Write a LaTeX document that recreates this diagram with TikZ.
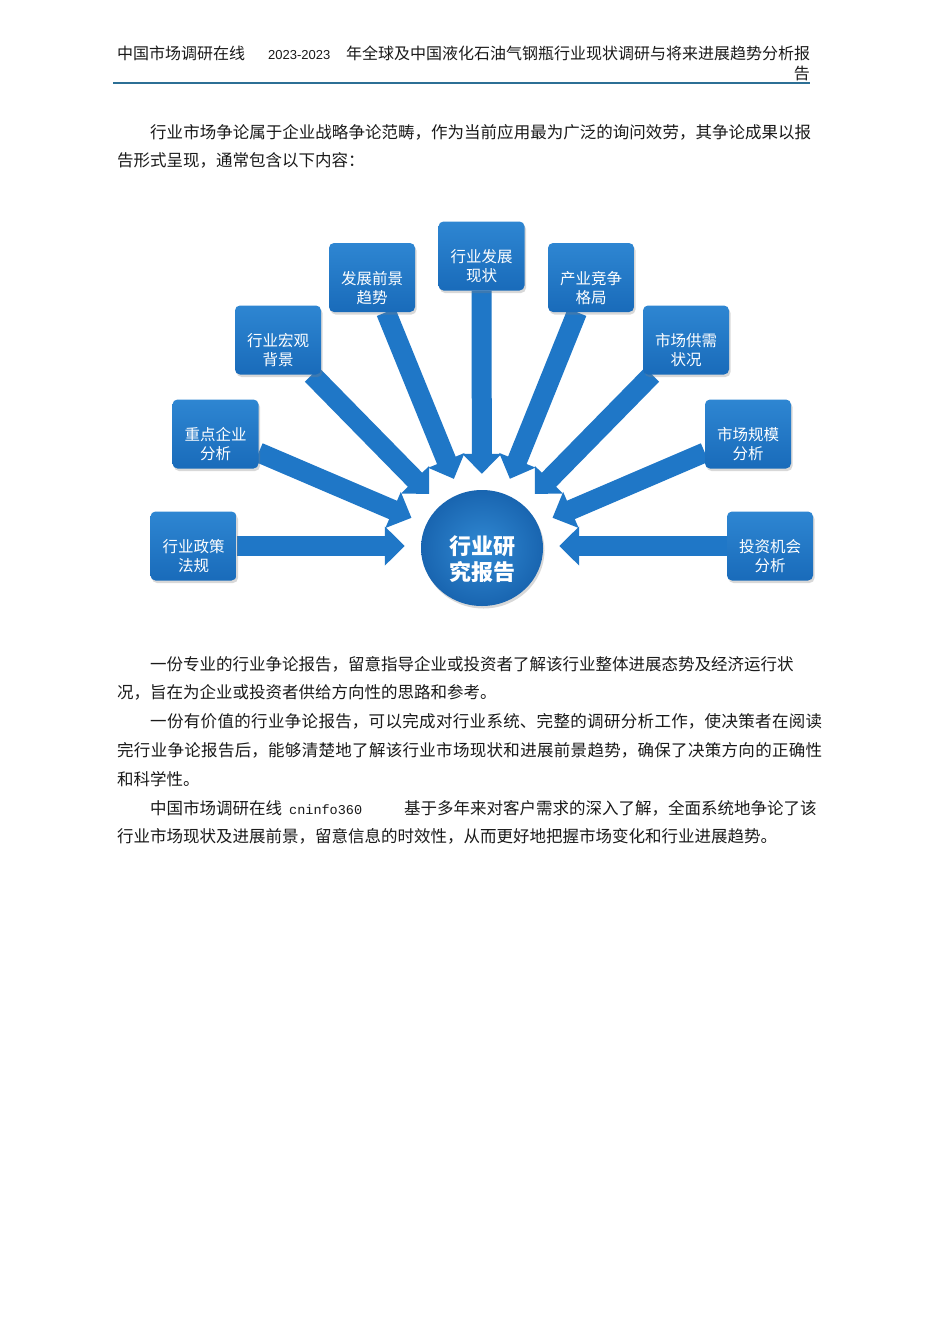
\documentclass[tikz,border=0pt]{standalone}
\usepackage{fontspec}
\setmainfont{Noto Sans CJK SC}
\newfontfamily\latinsans{Liberation Sans}
\newfontfamily\latinmono{Liberation Mono}
\usetikzlibrary{arrows.meta, positioning, shapes.geometric, shadows, backgrounds}
\XeTeXlinebreaklocale "zh"
\XeTeXlinebreakskip=0pt plus 3pt
\definecolor{cardtop}{HTML}{2E86D2}
\definecolor{cardbot}{HTML}{196BBA}
\definecolor{hubin}{HTML}{3189D3}
\definecolor{hubout}{HTML}{1965B0}
\definecolor{arrowblue}{HTML}{1F77C7}
\definecolor{rulecol}{HTML}{2C6F95}
\definecolor{inktext}{HTML}{1A1A1A}
% two lines of box text, pushed a little below the middle
\newcommand\twoline[2]{\rule{0pt}{34pt}#1\\#2}

\begin{document}
\begin{tikzpicture}[x=1pt, y=-1pt,
    card/.style={minimum width=86pt, minimum height=69pt, rounded corners=5pt, inner sep=0pt,
      top color=cardtop, bottom color=cardbot, text=white, align=center,
      font=\fontsize{15.5}{19}\selectfont,
      drop shadow={opacity=0.3, shadow xshift=1.5pt, shadow yshift=-2.5pt}},
    hub/.style={ellipse, minimum width=122pt, minimum height=116pt, inner sep=0pt,
      inner color=hubin, outer color=hubout, text=white, align=center,
      font=\fontsize{22}{26}\selectfont\bfseries,
      drop shadow={opacity=0.3, shadow xshift=1.5pt, shadow yshift=-2.5pt}},
    feed/.style={line width=20pt, draw=arrowblue, -{Triangle[width=38pt,length=20pt]}, shorten >=16pt},
    headtext/.style={inner sep=0pt, text=inktext, font=\fontsize{16}{19}\selectfont},
    bodytext/.style={inner sep=0pt, anchor=base west, align=justify, text=inktext,
      font=\fontsize{16.5}{28.8}\selectfont}]
  \useasboundingbox (0,0) rectangle (950,1344);

  % page head
  \node[headtext, anchor=base west] (site) at (117,59) {中国市场调研在线};
  \node[headtext, anchor=base west, font=\latinsans\fontsize{13}{19}\selectfont] (years) at (268,59) {2023-2023};
  \node[headtext, anchor=base west] (title) at (346,59) {年全球及中国液化石油气钢瓶行业现状调研与将来进展趋势分析报};
  \node[headtext, anchor=base east] (titleend) at (810,79) {告};
  \draw[rulecol, line width=2pt] (113,83) -- (810,83);

  \node[bodytext, text width=694pt] (intro) at (117,138)
    {\hspace*{33pt}行业市场争论属于企业战略争论范畴，作为当前应用最为广泛的询问效劳，其争论成果以报\linebreak 告形式呈现，通常包含以下内容：};

  % the fan of topics
  \node[card] (policy) at (193.5,546) {\twoline{行业政策}{法规}};
  \node[card] (firms) at (215.5,434) {\twoline{重点企业}{分析}};
  \node[card] (macro) at (278,340) {\twoline{行业宏观}{背景}};
  \node[card] (outlook) at (372,277.5) {\twoline{发展前景}{趋势}};
  \node[card] (status) at (481.5,256) {\twoline{行业发展}{现状}};
  \node[card] (rivals) at (591,277.5) {\twoline{产业竞争}{格局}};
  \node[card] (supply) at (686,340) {\twoline{市场供需}{状况}};
  \node[card] (size) at (748,434) {\twoline{市场规模}{分析}};
  \node[card] (invest) at (770,546) {\twoline{投资机会}{分析}};
  \node[hub] (report) at (482,548) {\rule{0pt}{41pt}行业研\\究报告};

  \begin{scope}[on background layer]
    \fill[white] (0,0) rectangle (950,1344);
    \foreach \n in {firms, macro, outlook, status, rivals, supply, size}
      \draw[feed] (\n) -- (report);
    \draw[feed] (policy) -- (policy -| report.west);
    \draw[feed] (invest) -- (invest -| report.east);
  \end{scope}

  \node[bodytext, text width=705pt] (details) at (117,670)
    {\hspace*{33pt}一份专业的行业争论报告，留意指导企业或投资者了解该行业整体进展态势及经济运行状\newline
     况，旨在为企业或投资者供给方向性的思路和参考。\par
     \hspace*{33pt}一份有价值的行业争论报告，可以完成对行业系统、完整的调研分析工作，使决策者在阅读\linebreak
     完行业争论报告后，能够清楚地了解该行业市场现状和进展前景趋势，确保了决策方向的正确性\linebreak
     和科学性。\par
     \hspace*{33pt}中国市场调研在线\hspace*{7pt}{\latinmono\fontsize{13.5}{28.8}\selectfont cninfo360}\hspace*{42pt}基于多年来对客户需求的深入了解，全面系统地争论了该\newline
     行业市场现状及进展前景，留意信息的时效性，从而更好地把握市场变化和行业进展趋势。};
\end{tikzpicture}
\end{document}
